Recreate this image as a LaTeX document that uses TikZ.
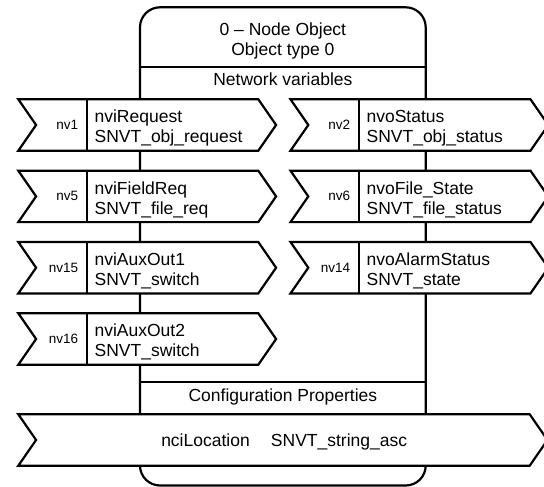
\documentclass[tikz,border=0pt]{standalone}
\usepackage{fontspec}
\setmainfont{Liberation Sans}
\tikzset{
  outline/.style={line width=2.2pt, draw=black, line join=miter},
  chev/.style={outline, fill=white},
  vtext/.style={font=\fontsize{17.5}{20}\selectfont, align=left, inner sep=0pt, anchor=north west},
  nvlab/.style={font=\fontsize{13.5}{16}\selectfont, inner sep=0pt, anchor=base east},
  htext/.style={font=\fontsize{17.5}{20}\selectfont, inner sep=0pt},
}
\newcommand\chevpath[4]{% x0, top, width, name
  \draw[chev] (#1,#2) coordinate (#4-tl) -- ++(#3,0) -- ++(17.8,25.7) coordinate (#4-tip)
     -- ++(-17.8,25.7) -- ++(-#3,0) -- ++(17.8,-25.7) coordinate (#4-notch) -- cycle;}
\newcommand\nvrow[7]{% x0, top, divider x, nv label, line1, line2, name
  \pgfmathsetmacro\myRowBot{#2+51.4}%
  \pgfmathsetmacro\myRowBase{#2+30.2}%
  \pgfmathsetmacro\myRowTxt{#2+9.4}%
  \pgfmathsetmacro\myRowLab{#3-9}%
  \pgfmathsetmacro\myRowTx{#3+7.1}%
  \chevpath{#1}{#2}{240}{#7}
  \draw[outline] (#3,#2) -- (#3,\myRowBot);
  \node[nvlab] (#7-nv) at (\myRowLab,\myRowBase) {#4};
  \node[vtext] (#7-txt) at (\myRowTx,\myRowTxt) {\strut #5\\\strut #6};
}
\begin{document}
\begin{tikzpicture}[x=1pt,y=-1pt]
\useasboundingbox (0,0) rectangle (544,487);
% object outline
\draw[outline, rounded corners=20pt] (140,7.3) rectangle (425.7,485.5);
\draw[outline] (140,66.7) -- (425.7,66.7);
\draw[outline] (140,382.3) -- (425.7,382.3);
\node[htext, align=center, anchor=north] (title) at (282.9,21.7) {\strut 0 – Node Object\\\strut Object type 0};
\node[htext, anchor=base] (nvhead) at (282.9,86) {Network variables};
\node[htext, anchor=base] (cphead) at (282.9,401.5) {Configuration Properties};
% network variables
\nvrow{18.3}{99.3}{87.3}{nv1}{nviRequest}{SNVT\_obj\_request}{r1}
\nvrow{290.5}{99.3}{359.3}{nv2}{nvoStatus}{SNVT\_obj\_status}{r2}
\nvrow{18.3}{170.7}{87.3}{nv5}{nviFieldReq}{SNVT\_file\_req}{r5}
\nvrow{290.5}{170.7}{359.3}{nv6}{nvoFile\_State}{SNVT\_file\_status}{r6}
\nvrow{18.3}{242}{87.3}{nv15}{nviAuxOut1}{SNVT\_switch}{r15}
\nvrow{290.5}{242}{359.3}{nv14}{nvoAlarmStatus}{SNVT\_state}{r14}
\nvrow{18.3}{313.3}{87.3}{nv16}{nviAuxOut2}{SNVT\_switch}{r16}
% configuration property
\chevpath{18.3}{414.3}{511.4}{nci}
\node[htext, anchor=base] (ncitxt) at (284.2,446.3) {nciLocation\hspace{21.2pt}SNVT\_string\_asc};
\end{tikzpicture}
\end{document}
